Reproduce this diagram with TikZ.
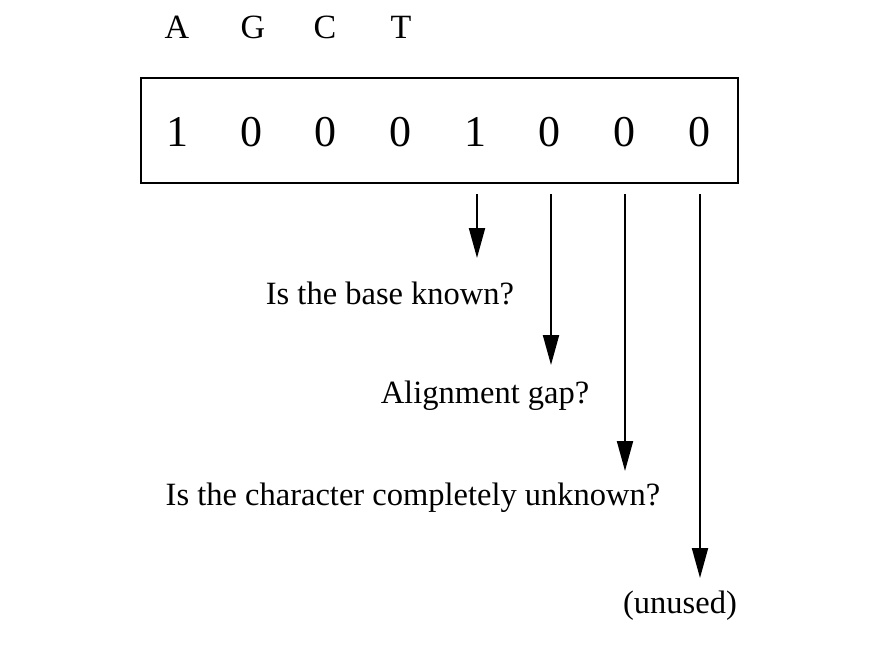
\documentclass[tikz,border=0pt]{standalone}
\usepackage{fontspec}
\setmainfont{Liberation Serif}
\usetikzlibrary{arrows.meta}
\begin{document}
\begin{tikzpicture}[x=1pt,y=-1pt,
  digit/.style={font=\fontsize{44}{50}\selectfont, inner sep=0pt},
  base/.style={font=\fontsize{34}{40}\selectfont, inner sep=0pt},
  lbl/.style={font=\fontsize{32.5}{40}\selectfont, inner sep=0pt},
  frame/.style={draw, line width=2pt},
  arr/.style={line width=2pt, -{Triangle[length=30pt,width=16pt]}}]
\useasboundingbox (0,0) rectangle (880,650);
\node[frame, minimum width=597pt, minimum height=105pt, inner sep=0pt] (box) at (439.5,130.5) {};
\node[base] (A) at (177,27) {A};
\node[base] (G) at (253,27) {G};
\node[base] (C) at (325,27) {C};
\node[base] (T) at (401,27) {T};
\node[digit] (d1) at (177,132) {1};
\node[digit] (d2) at (251,132) {0};
\node[digit] (d3) at (325,132) {0};
\node[digit] (d4) at (400,132) {0};
\node[digit] (d5) at (475,132) {1};
\node[digit] (d6) at (549,132) {0};
\node[digit] (d7) at (624,132) {0};
\node[digit] (d8) at (699,132) {0};
\coordinate (s1) at (477,194); \coordinate (e1) at (477,258);
\coordinate (s2) at (551,194); \coordinate (e2) at (551,365);
\coordinate (s3) at (625,194); \coordinate (e3) at (625,471);
\coordinate (s4) at (700,194); \coordinate (e4) at (700,578);
\draw[arr] (s1) -- (e1);
\draw[arr] (s2) -- (e2);
\draw[arr] (s3) -- (e3);
\draw[arr] (s4) -- (e4);
\node[lbl] (l1) at (390,293) {Is the base known?};
\node[lbl] (l2) at (485,396) {Alignment gap?};
\node[lbl] (l3) at (413,498) {Is the character completely unknown?};
\node[lbl] (l4) at (680,606) {(unused)};
\end{tikzpicture}
\end{document}
